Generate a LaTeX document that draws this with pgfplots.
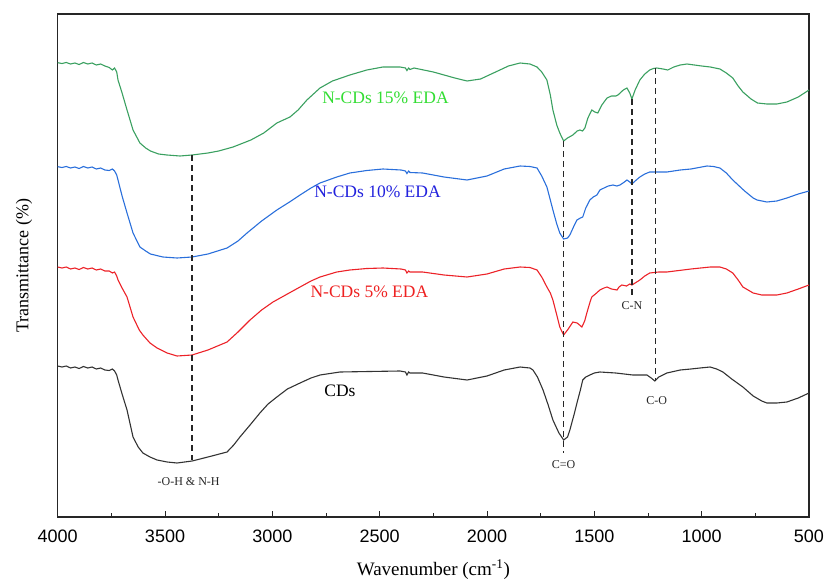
\documentclass[border=0pt]{standalone}
\usepackage{pgfplots}
\pgfplotsset{compat=1.18}
\usepackage{pgfplotstable}
\usepackage{fontspec}
\setmainfont{Liberation Serif}
\newfontfamily\arial{Liberation Sans}
\newfontfamily\tnr{Liberation Serif}
\definecolor{lgreen}{HTML}{3AA060}
\definecolor{lblue}{HTML}{2A6FDB}
\definecolor{lred}{HTML}{EC2228}
\definecolor{lblack}{HTML}{333333}
\definecolor{tgreen}{HTML}{33DD33}
\definecolor{tblue}{HTML}{2222DD}
\definecolor{tred}{HTML}{EE2222}

% w = wavenumber, p = pixel row of the trace (y = 517 - p)
\pgfplotstableread{
w p
4000 62.7
3980 63.5
3960 62.5
3940 64
3920 63
3900 64.5
3880 62.5
3860 64
3840 63
3820 65
3800 64
3780 66
3760 67.5
3745 70
3735 68
3725 72
3719 80
3700 93
3677 110
3649 130
3617 143
3590 148
3568 151
3530 154
3491 155
3430 156
3374 155
3300 153
3250 151
3183 147
3100 140
3040 133
2979 123
2918 117
2880 110
2839 100
2778 88
2720 81
2639 75
2560 70
2485 67
2405 67
2380 68
2373 70.5
2365 68
2359 69.5
2340 68
2250 72
2150 78
2093 81
2030 79
1960 72
1900 66
1846 63
1800 64
1767 67
1745 72
1721 80
1705 95
1693 110
1675 125
1661 133
1643 141
1625 138
1600 135
1580 131
1567 130
1555 131
1544 128
1530 118
1512 110
1498 112
1484 113
1465 105
1441 98
1420 96
1400 96
1390 95
1365 90
1348 88
1335 93
1325 99
1310 90
1288 80
1265 74
1242 70
1225 68.5
1209 68
1180 69
1158 70
1130 67
1100 65
1068 64
1000 66
960 67
915 69
885 73
855 78
830 86
808 92
770 99
740 103
696 104
650 104
603 102
550 97
500 90
}\tgreen

\pgfplotstableread{
w p
4000 166.7
3980 167.5
3960 166.5
3940 168
3920 167
3900 168.5
3880 166.5
3860 168
3840 167
3820 169
3800 168
3780 170
3760 170.5
3745 169
3735 171
3725 175
3719 180
3700 196
3677 213
3649 233
3617 247
3590 251
3568 254
3510 257
3444 258
3374 257
3300 254
3211 248
3160 241
3118 233
3050 221
2979 210
2920 202
2871 195
2820 188
2778 183
2700 177
2639 173
2560 170.5
2485 169
2400 170
2380 171
2373 173.5
2365 171
2359 172.5
2300 173
2200 177
2093 180
2000 176
1920 169
1846 166
1800 166.5
1767 168
1745 176
1721 187
1705 200
1693 210
1675 224
1661 233
1643 239
1625 238
1614 235
1595 226
1581 220
1565 218
1554 217
1540 208
1521 200
1505 197
1488 195
1474 190
1455 188
1435 186
1413 185
1395 186
1381 185
1360 182
1348 180
1335 182
1325 184
1310 181
1288 177
1265 174
1242 172
1200 172
1162 172
1100 170
1050 169
1000 167
975 166
945 166.5
915 168
885 173
855 180
800 191
760 198
742 200
696 202
650 201
603 198
550 194
500 191
}\tblue

\pgfplotstableread{
w p
4000 267
3980 268
3960 267
3940 269
3920 268
3900 269.5
3880 267.5
3860 269
3840 268
3820 270
3800 269
3780 271
3760 271
3745 273
3735 272
3725 276
3719 280
3700 288
3677 297
3649 317
3620 330
3603 335
3570 343
3537 348
3490 353
3444 356
3374 355
3300 350
3211 342
3160 332
3104 320
3050 310
2997 302
2930 294
2871 287
2820 281
2778 277
2700 272
2639 270
2560 268.5
2485 268
2400 269
2380 270
2373 273
2365 271
2359 272
2300 272
2200 275
2093 277
2000 274
1920 269
1846 267
1800 267.5
1767 270
1745 277
1721 287
1705 293
1693 300
1675 315
1661 327
1643 335
1625 330
1600 322
1580 323
1558 327
1545 321
1535 313
1520 302
1512 297
1495 294
1474 290
1455 288
1441 287
1420 289
1394 290
1385 287
1372 285
1350 286
1335 284
1325 285
1310 283
1288 280
1265 276
1242 273
1200 272
1162 272
1050 269
960 267
915 267
885 269
855 273
830 280
808 287
760 293
720 295
696 295
650 295
603 293
550 289
500 285
}\tred

\pgfplotstableread{
w p
4000 366
3980 367
3960 366
3940 368
3920 367
3900 368.5
3880 366.5
3860 368
3840 367
3820 369
3800 368
3780 370
3760 370.5
3745 369
3735 371
3725 375
3719 380
3700 394
3677 410
3649 437
3625 447
3603 453
3570 457
3537 460
3490 462
3444 463
3374 461
3300 457
3211 452
3180 445
3151 437
3100 424
3058 413
3020 404
2979 397
2930 389
2871 383
2820 378
2778 375
2685 372
2550 371.5
2405 371
2380 372
2373 375
2365 372
2359 373
2300 373
2200 377
2093 380
2000 376
1920 370
1846 367
1800 368
1786 370
1765 377
1739 390
1715 405
1693 420
1665 433
1643 440
1625 437
1614 430
1595 415
1581 403
1565 390
1554 380
1540 377
1521 375
1500 373
1474 372
1400 373
1321 375
1290 375
1255 375
1235 378
1218 381
1200 377
1162 373
1100 370
1050 369
1008 368
961 367
930 369
901 372
860 379
808 387
760 396
720 401
696 403
650 403
603 402
550 398
500 393
}\tblack

\begin{document}
\begin{tikzpicture}
\begin{axis}[
  scale only axis,
  width=751.3pt, height=503pt,
  xmin=500, xmax=4000, x dir=reverse,
  ymin=0, ymax=503,
  axis line style={line width=1.2pt, color=black!85},
  xtick={500,1000,...,4000},
  minor xtick={750,1250,...,3750},
  xtick pos=bottom,
  tick align=inside,
  major tick length=6pt, minor tick length=4pt,
  tick style={line width=1pt, color=black!85},
  ytick=\empty,
  xticklabel style={font=\arial\fontsize{18}{21}\selectfont, yshift=-9pt},
  /pgf/number format/assume math mode=true,
  /pgf/number format/1000 sep={},
  xlabel={Wavenumber (cm\textsuperscript{-1})},
  xlabel style={font=\tnr\fontsize{19}{22}\selectfont, yshift=-11pt},
  ylabel={Transmittance (\%)},
  ylabel style={font=\tnr\fontsize{18}{22}\selectfont, yshift=22pt},
  clip=false,
]
\addplot[lgreen, line width=1.1pt] table[x=w, y expr=517-\thisrow{p}] {\tgreen};
\addplot[lblue, line width=1.1pt] table[x=w, y expr=517-\thisrow{p}] {\tblue};
\addplot[lred, line width=1.1pt] table[x=w, y expr=517-\thisrow{p}] {\tred};
\addplot[lblack, line width=1.1pt] table[x=w, y expr=517-\thisrow{p}] {\tblack};

\addplot[black!85, line width=1.5pt, dash pattern=on 6pt off 4pt] coordinates {(3374,362) (3374,57)};
\addplot[black!85, line width=1.5pt, dash pattern=on 6pt off 4pt] coordinates {(1643,376) (1643,64)};
\addplot[black!85, line width=1.5pt, dash pattern=on 6pt off 4pt] coordinates {(1325,418) (1325,220)};
\addplot[black!85, line width=1.5pt, dash pattern=on 6pt off 4pt] coordinates {(1214,449) (1214,136)};

\node[text=tgreen, font=\tnr\fontsize{17.5}{20}\selectfont] at (axis cs:2473,419) {N-CDs 15\% EDA};
\node[text=tblue, font=\tnr\fontsize{17.5}{20}\selectfont] at (axis cs:2510,325) {N-CDs 10\% EDA};
\node[text=tred, font=\tnr\fontsize{17.5}{20}\selectfont] at (axis cs:2548,225) {N-CDs 5\% EDA};
\node[text=black, font=\tnr\fontsize{17.5}{20}\selectfont] at (axis cs:2685,126) {CDs};

\node[text=black!85, font=\tnr\fontsize{12}{14}\selectfont] at (axis cs:3390,35) {-O-H \& N-H};
\node[text=black!85, font=\tnr\fontsize{12}{14}\selectfont] at (axis cs:1643,52) {C=O};
\node[text=black!85, font=\tnr\fontsize{12}{14}\selectfont] at (axis cs:1325,211) {C-N};
\node[text=black!85, font=\tnr\fontsize{12}{14}\selectfont] at (axis cs:1209,116) {C-O};
\end{axis}
\pgfresetboundingbox
\path (-57.7pt,-65pt) rectangle (766.3pt,517pt);
\end{tikzpicture}
\end{document}
